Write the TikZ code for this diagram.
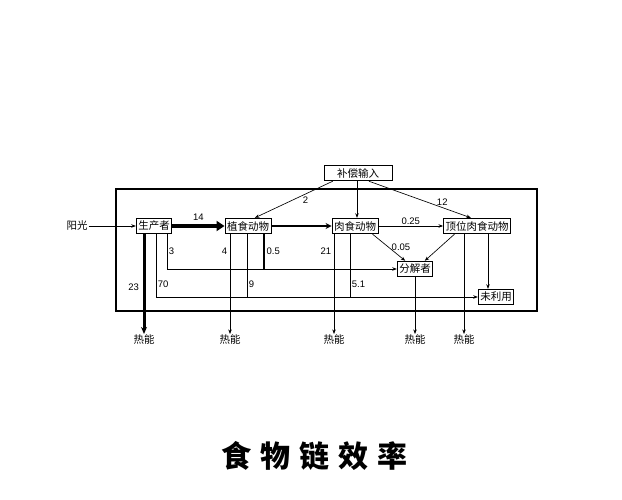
\documentclass[tikz,border=0pt]{standalone}
\usepackage{fontspec}
\usetikzlibrary{arrows.meta}
\newfontfamily\cjk{Noto Sans CJK SC}
\newfontfamily\numfont{Liberation Sans}
\newfontfamily\titlefont[LetterSpace=30]{Noto Sans CJK SC}

\begin{document}
\begin{tikzpicture}[x=1pt,y=-1pt,
	box/.style={draw,line width=0.9pt,inner xsep=2pt,inner ysep=1pt,minimum height=15.5pt,font=\cjk\fontsize{10.5}{11}\selectfont},
	heat/.style={font=\cjk\fontsize{10.5}{11}\selectfont,inner sep=1pt},
	lbl/.style={font=\numfont\fontsize{9.5}{10}\selectfont,inner sep=0.5pt},
	thin/.style={line width=0.65pt},
	>={Stealth[length=4.5pt,width=3.5pt]}]
	\useasboundingbox (0,0) rectangle (622,500);
	\draw[line width=1.6pt] (116,189) rectangle (537,311);
	% boxes
	\node[box,minimum width=68pt] (input) at (358,173) {补偿输入};
	\node[box] (prod) at (154,226) {生产者};
	\node[box] (herb) at (248,226) {植食动物};
	\node[box] (carn) at (355,226) {肉食动物};
	\node[box] (apex) at (477,226) {顶位肉食动物};
	\node[box] (decomp) at (415,269) {分解者};
	\node[box] (unused) at (496,297) {未利用};
	\node[heat] (sun) at (77,226) {阳光};
	\node[heat] (heatA) at (144,340) {热能};
	\node[heat] (heatB) at (230,340) {热能};
	\node[heat] (heatC) at (334,340) {热能};
	\node[heat] (heatD) at (415,340) {热能};
	\node[heat] (heatE) at (464,340) {热能};
	% main chain
	\draw[thin,->] (sun) -- (prod);
	\draw[line width=3.5pt,-{Triangle[length=8pt,width=10pt]}] (prod) -- (herb) node[lbl,midway,above=3pt] {14};
	\draw[line width=2.2pt,-{Stealth[length=6pt,width=6pt]}] (herb) -- (carn);
	\draw[thin,->] (carn) -- (apex) node[lbl,midway,above=1pt] {0.25};
	\draw[thin,->] (carn.-25) -- (decomp.140) node[lbl,midway,right=2pt] {0.05};
	\draw[thin,->] (apex.200) -- (decomp.40);
	\draw[thin,->] (apex.south -| 488,0) -- (unused.north -| 488,0);
	% input
	\draw[thin,->] (input.198) -- (herb.50) node[lbl,pos=0.35,below=2pt] {2};
	\draw[thin,->] (input.south -| 357,0) -- (carn.north -| 357,0);
	\draw[thin,->] (input.-37) -- (apex.127) node[lbl,pos=0.72,above=1pt] {12};
	% heat
	\draw[line width=3pt,-{Stealth[length=7pt,width=6pt]}] (prod.south -| heatA) -- (heatA) node[lbl,pos=0.53,left=3pt] {23};
	\draw[thin,->] (herb.south -| heatB) -- (heatB) node[lbl,pos=0.17,left=2pt] {4};
	\draw[thin,->] (carn.south -| heatC) -- (heatC) node[lbl,pos=0.17,left=2pt] {21};
	\draw[thin,->] (decomp) -- (heatD);
	\draw[thin,->] (apex.south -| heatE) -- (heatE);
	% to decomposers and unused
	\draw[thin,->] (prod.south -| 167,0) |- (decomp.west) node[lbl,pos=0.25,right=1pt] {3};
	\draw[line width=1.3pt] (herb.south -| 264,0) -- (264,0 |- decomp.west) node[lbl,midway,right=1.5pt] {0.5};
	\draw[thin,->] (prod.south -| 156,0) |- (unused.west) node[lbl,pos=0.4,right=1pt] {70};
	\draw[thin] (herb.south -| 247,0) -- (247,0 |- unused.west) node[lbl,pos=0.8,right=1pt] {9};
	\draw[thin] (carn.south -| 350,0) -- (350,0 |- unused.west) node[lbl,pos=0.8,right=1pt] {5.1};
	% title
	\node[font=\titlefont\bfseries\fontsize{30}{32}\selectfont] (title) at (314,456) {食物链效率};
\end{tikzpicture}
\end{document}
